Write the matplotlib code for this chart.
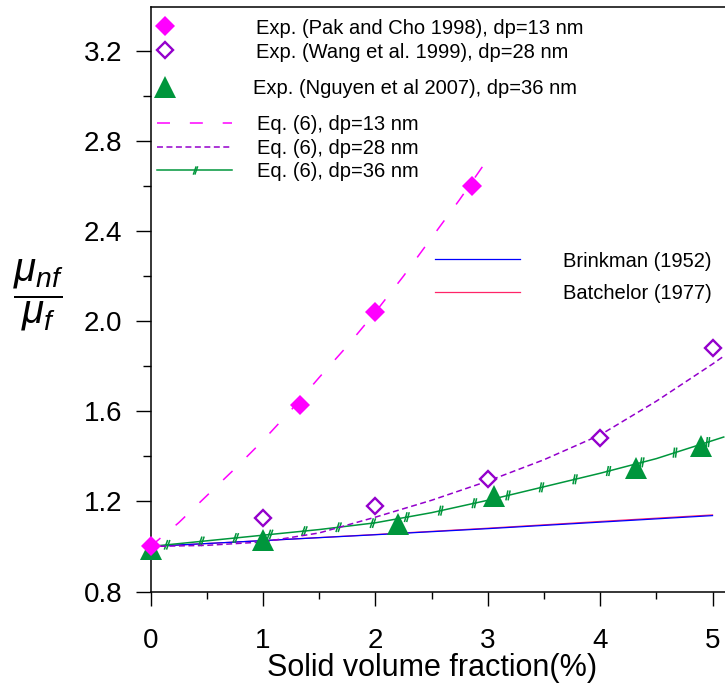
import matplotlib
matplotlib.use("Agg")
import matplotlib.pyplot as plt
import matplotlib.patheffects as pe
from matplotlib.lines import Line2D
from matplotlib.path import Path
from matplotlib.ticker import MultipleLocator, FormatStrFormatter

plt.rcParams['font.family'] = ['Liberation Sans', 'DejaVu Sans']
plt.rcParams['mathtext.fontset'] = 'custom'
plt.rcParams['mathtext.it'] = 'Liberation Sans:italic'
plt.rcParams['mathtext.rm'] = 'Liberation Sans'

# experimental points
pak_x = [0, 1.33, 2.0, 2.86]
pak_y = [1.0, 1.63, 2.04, 2.60]
wang_x = [1, 2, 3, 4, 5]
wang_y = [1.125, 1.18, 1.30, 1.48, 1.88]
nguyen_x = [0, 1.0, 2.2, 3.06, 4.32, 4.9]
nguyen_y = [0.99, 1.03, 1.10, 1.225, 1.35, 1.445]

# model curves
eq13_x = [0, 0.25, 0.5, 0.75, 1.0, 1.25, 1.5, 1.75, 2.0, 2.25, 2.5, 2.75, 3.0, 3.05]
eq13_y = [1.0, 1.105, 1.225, 1.345, 1.47, 1.605, 1.75, 1.89, 2.04, 2.20, 2.37, 2.54, 2.72, 2.755]
eq28_x = [0, 0.5, 1, 1.5, 2, 2.5, 3, 3.5, 4, 4.5, 5, 5.1]
eq28_y = [1.0, 1.005, 1.02, 1.06, 1.13, 1.205, 1.29, 1.385, 1.495, 1.645, 1.81, 1.845]
eq36_x = [0, 0.5, 1, 1.5, 2, 2.5, 3, 3.5, 4, 4.5, 5, 5.1]
eq36_y = [1.0, 1.025, 1.05, 1.075, 1.105, 1.15, 1.205, 1.265, 1.325, 1.39, 1.47, 1.486]
brink_x = [0, 1, 2, 3, 4, 5]
brink_y = [1.0, 1.026, 1.052, 1.079, 1.108, 1.137]
batch_x = [0, 1, 2, 3, 4, 5]
batch_y = [1.0, 1.026, 1.053, 1.081, 1.111, 1.140]

magenta = '#FF00FF'
purple = '#9400CC'
green = '#00963C'
blue = '#0000FF'
pink = '#FF2468'

W, H = 725, 691
fig = plt.figure(figsize=(W / 100, H / 100), dpi=100)
ax = fig.add_axes([150.5 / W, (H - 591.5) / H, 1 - 150.5 / W, (591.5 - 7) / H])

ax.plot(batch_x, batch_y, color=pink, lw=0.9, zorder=2)
ax.plot(brink_x, brink_y, color=blue, lw=0.9, zorder=2)

# hash marks along the dp=36 curve
hash_fx = [pe.Normal()]
for dx in (-0.8, 0.8):
    hash_fx.append(pe.TickedStroke(offset=(dx, 0), spacing=24, angle=65, length=0.13))
    hash_fx.append(pe.TickedStroke(offset=(dx, 0), spacing=24, angle=-115, length=0.13))
ax.plot(eq36_x, eq36_y, color=green, lw=1.1, path_effects=hash_fx, zorder=3)
ax.plot(eq28_x, eq28_y, color=purple, lw=1.1, ls=(0, (3.9, 2.3)), zorder=3)
ax.plot(eq13_x, eq13_y, color=magenta, lw=1.1, ls=(0, (8.5, 13)), zorder=3)

h_ng, = ax.plot(nguyen_x, nguyen_y, ls='none', marker='^', ms=16.5, color=green,
                mew=0, zorder=4, clip_on=False)
h_wa, = ax.plot(wang_x, wang_y, ls='none', marker='D', ms=8.5, mfc='white',
                mec=purple, mew=1.7, zorder=5)
h_pk, = ax.plot(pak_x, pak_y, ls='none', marker='D', ms=10.5, color=magenta,
                mew=0, zorder=6, clip_on=False)

ax.set_xlim(0, (W - 150.5) / 112.4)
ax.set_ylim(0.8, 0.8 + 584.5 / 225.2)
ax.xaxis.set_major_locator(MultipleLocator(1))
ax.xaxis.set_minor_locator(MultipleLocator(0.5))
ax.yaxis.set_major_locator(MultipleLocator(0.4))
ax.yaxis.set_minor_locator(MultipleLocator(0.2))
ax.yaxis.set_major_formatter(FormatStrFormatter('%.1f'))

ax.spines['right'].set_visible(False)
for s in ('left', 'bottom', 'top'):
    ax.spines[s].set_linewidth(1.1)
ax.tick_params(axis='both', which='both', direction='out', width=1.0, labelsize=20)
ax.tick_params(axis='x', which='major', length=10, pad=16)
ax.tick_params(axis='x', which='minor', length=5)
ax.tick_params(axis='y', which='major', length=10.8, pad=9.4)
ax.tick_params(axis='y', which='minor', length=5.8)

ax.set_xlabel('Solid volume fraction(%)', fontsize=22, va='center')
ax.xaxis.set_label_coords((432 - 150.5) / 574.5, -(668 - 591.5) / 584.5)
ax.set_ylabel(r'$\dfrac{\mu_{nf}}{\mu_f}$', fontsize=29, rotation=0,
              va='center', ha='center')
ax.yaxis.set_label_coords((38 - 150.5) / 574.5, (591.5 - 295) / 584.5)

# legend handle for the hashed line
hash_marker = Path([(-0.55, -1), (0.15, 1), (-0.15, -1), (0.55, 1)],
                   [Path.MOVETO, Path.LINETO, Path.MOVETO, Path.LINETO])
h36 = Line2D([], [], color=green, lw=1.1, marker=hash_marker, ms=6,
             mfc='none', mec=green, mew=1.0)
h28 = Line2D([], [], color=purple, lw=1.1, ls=(0, (3.9, 2.3)))
h13 = Line2D([], [], color=magenta, lw=1.1, ls=(0, (8.5, 13)))
hbr = Line2D([], [], color=blue, lw=0.9)
hba = Line2D([], [], color=pink, lw=0.9)

fs = 14.5
fpx = fs * 100 / 72


def place(handles, labels, x0, top, hl, tp, ls):
    leg = fig.legend(handles, labels, loc='upper left', bbox_to_anchor=(x0 / W, 1 - top / H),
                     frameon=False, borderpad=0, borderaxespad=0, fontsize=fs,
                     handlelength=hl, handletextpad=tp, labelspacing=ls, numpoints=1)
    return leg


place([h_pk, h_wa], ['Exp. (Pak and Cho 1998), dp=13 nm', 'Exp. (Wang et al. 1999), dp=28 nm'],
      149, 18.5, 32 / fpx, (256 - 181) / fpx, 0.25)
place([h_ng], ['Exp. (Nguyen et al 2007), dp=36 nm'],
      149, 79.5, 32 / fpx, (253 - 181) / fpx, 0.1)
place([h13, h28, h36], ['Eq. (6), dp=13 nm', 'Eq. (6), dp=28 nm', 'Eq. (6), dp=36 nm'],
      157, 115.5, 75 / fpx, 25 / fpx, 0.22)
place([hbr, hba], ['Brinkman (1952)', 'Batchelor (1977)'],
      435, 251.5, 85 / fpx, 43 / fpx, 0.65)

fig.savefig('out.png', dpi=100)
